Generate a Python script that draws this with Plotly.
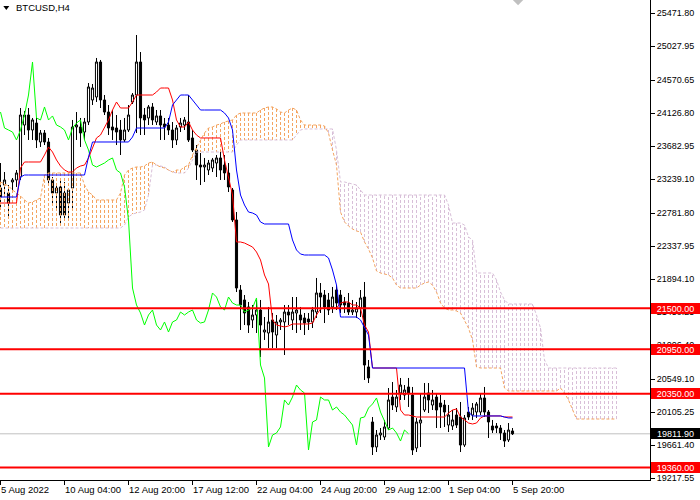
import plotly.graph_objects as go

# ---------------- data ----------------
symbol = "BTCUSD,H4"

date_labels = ["5 Aug 2022", "10 Aug 04:00", "12 Aug 20:00", "17 Aug 12:00", "22 Aug 04:00",
               "24 Aug 20:00", "29 Aug 12:00", "1 Sep 04:00", "5 Sep 20:00"]
date_label_bars = [0, 16, 32, 48, 64, 80, 96, 112, 128]

price_ticks = [25471.80, 25027.95, 24570.65, 24126.80, 23682.95, 23239.10, 22781.80,
               22337.95, 21894.10, 21450.25, 21006.40, 20549.10, 20105.25, 19661.40, 19217.55]

levels = [21500.00, 20950.00, 20350.00, 19360.00]
bid = 19811.90

open_ = [23118, 23158, 23051, 23199, 23226, 23266, 23965, 24100, 23898, 23992,
         23737, 23858, 23737, 23226, 23051, 23132, 23051, 22916, 23118, 23939,
         23939, 23871, 24006, 24302, 24342, 24813, 24302, 24140, 23939, 23925,
         23898, 23764, 23898, 24275, 24369, 24813, 24100, 24060, 24208, 24006,
         24087, 23979, 23965, 23898, 23764, 23939, 23965, 24006, 23791, 23629,
         23427, 23401, 23360, 23387, 23454, 23522, 23427, 23320, 23091, 22688,
         21746, 21612, 21518, 21343, 21410, 21477, 21181, 21168, 21343, 21141,
         21316, 21316, 21450, 21343, 21437, 21410, 21370, 21356, 21316, 21450,
         21706, 21679, 21612, 21518, 21746, 21679, 21585, 21571, 21450, 21450,
         21504, 21652, 20711, 19971, 19635, 19796, 19769, 19890, 20307, 20173,
         20361, 20334, 20442, 20334, 19621, 19957, 20132, 20361, 20199, 20307,
         20226, 20199, 19930, 19917, 20065, 20038, 19661, 20105, 20065, 20105,
         20105, 20294, 20105, 19917, 19917, 19890, 19823, 19729, 19850]

high = [23454, 23333, 23158, 23253, 23360, 24194, 24154, 24194, 24060, 24060,
        23898, 23898, 23791, 23266, 23185, 23226, 23199, 23118, 24033, 24140,
        24060, 24060, 24530, 24517, 24867, 24840, 24369, 24234, 24167, 24100,
        24033, 24060, 24234, 24396, 25176, 24947, 24194, 24234, 24261, 24167,
        24167, 24060, 24060, 24006, 23965, 24060, 24073, 24369, 23898, 23696,
        23589, 23522, 23495, 23522, 23562, 23602, 23562, 23454, 23118, 22795,
        21813, 21679, 21585, 21544, 21612, 21612, 21383, 21518, 21437, 21410,
        21370, 21544, 21544, 21652, 21652, 21518, 21437, 21437, 21518, 21908,
        21840, 21746, 21706, 21787, 21813, 21746, 21652, 21706, 21612, 21585,
        21746, 21854, 20805, 20038, 19863, 19890, 19998, 20428, 20509, 20401,
        20563, 20468, 20563, 20442, 20025, 20361, 20495, 20495, 20401, 20361,
        20334, 20267, 20199, 20132, 20159, 20240, 20065, 20173, 20226, 20240,
        20361, 20442, 20132, 19998, 19957, 19930, 19863, 19957, 19890]

low = [22863, 22997, 22728, 23091, 23132, 23226, 23831, 23764, 23764, 23656,
       23670, 23696, 23158, 22916, 22822, 22620, 22715, 22715, 22822, 23764,
       23670, 23764, 23965, 24234, 24275, 24194, 24100, 23831, 23764, 23696,
       23562, 23737, 23871, 24248, 23858, 23831, 23831, 23965, 23965, 23965,
       23764, 23764, 23831, 23656, 23696, 23871, 23898, 23737, 23602, 23226,
       23158, 23199, 23293, 23333, 23266, 23226, 23226, 23064, 22661, 21719,
       21208, 21275, 21168, 21235, 21168, 20845, 21074, 20966, 20966, 20966,
       21208, 20872, 21275, 21208, 21168, 21208, 21141, 21208, 21235, 21370,
       21437, 21302, 21410, 21437, 21477, 21437, 21437, 21410, 21410, 21370,
       21383, 20536, 20495, 19527, 19567, 19729, 19729, 19863, 20132, 20105,
       20267, 20267, 20173, 19527, 19567, 19635, 20105, 20092, 20132, 19890,
       19890, 19904, 19836, 19863, 19890, 19567, 19635, 19998, 19998, 20025,
       20065, 20038, 19756, 19823, 19823, 19729, 19635, 19702, 19796]

close = [22997, 23226, 22916, 23226, 23320, 24100, 24100, 23898, 24033, 23764,
         23858, 23737, 23226, 23051, 23118, 22755, 22755, 23091, 23939, 23965,
         23858, 24006, 24477, 24463, 24813, 24302, 24140, 23925, 23898, 23871,
         23764, 23898, 24100, 24369, 24813, 24060, 24033, 24208, 24033, 24087,
         23965, 23939, 23898, 23764, 23925, 23992, 24033, 23764, 23629, 23427,
         23401, 23427, 23454, 23495, 23522, 23360, 23320, 23132, 22688, 21773,
         21544, 21437, 21275, 21410, 21477, 21275, 21208, 21316, 21181, 21316,
         21343, 21450, 21410, 21450, 21477, 21343, 21302, 21316, 21477, 21706,
         21652, 21518, 21477, 21652, 21571, 21544, 21544, 21450, 21477, 21504,
         21639, 20737, 20563, 19635, 19796, 19823, 19904, 20267, 20199, 20307,
         20468, 20401, 20361, 19594, 19971, 19998, 20307, 20267, 20267, 20132,
         20173, 20105, 20065, 19998, 19930, 19661, 20025, 20038, 20159, 20213,
         20294, 20105, 19971, 19863, 19890, 19823, 19715, 19863, 19811.9]

tenkan = [22916, 22916, 22916, 22916, 22916, 23387, 23468, 23468, 23468, 23468,
          23468, 23562, 23670, 23602, 23495, 23414, 23360, 23333, 23333, 23387,
          23414, 23427, 23522, 23656, 23791, 23831, 23925, 24033, 24167, 24275,
          24194, 24194, 24194, 24275, 24369, 24369, 24369, 24369, 24369, 24409,
          24463, 24463, 24463, 24302, 24033, 23939, 23939, 24006, 23898, 23831,
          23791, 23791, 23791, 23791, 23791, 23791, 23495, 23253, 23024, 22392,
          22392, 22378, 22351, 22325, 22257, 22150, 21948, 21827, 21343, 21275,
          21262, 21249, 21262, 21289, 21289, 21289, 21289, 21289, 21302, 21410,
          21491, 21504, 21504, 21504, 21504, 21571, 21585, 21585, 21544, 21544,
          21504, 21275, 21181, 20697, 20697, 20697, 20697, 20697, 20697, 20697,
          20132, 20065, 20065, 20052, 20038, 20038, 20038, 20038, 20038, 20038,
          20038, 20038, 20092, 20132, 20146, 20038, 19998, 19957, 19944, 19957,
          20025, 20052, 20052, 20052, 20052, 20052, 20038, 20038, 20038]

kijun = [22997, 22997, 22997, 22997, 22997, 23266, 23293, 23293, 23293, 23293,
         23293, 23293, 23293, 23293, 23293, 23293, 23293, 23293, 23293, 23293,
         23293, 23293, 23535, 23737, 23737, 23737, 23737, 23737, 23737, 23737,
         23737, 23737, 23737, 23804, 23925, 23925, 23925, 23925, 23925, 23925,
         23925, 23925, 24006, 24234, 24302, 24369, 24369, 24369, 24302, 24234,
         24167, 24167, 24167, 24167, 24167, 24167, 24127, 24060, 23898, 23360,
         23024, 22889, 22795, 22782, 22755, 22661, 22634, 22634, 22634, 22634,
         22634, 22634, 22634, 22419, 22284, 22230, 22217, 22217, 22217, 22217,
         22217, 22217, 22177, 22015, 21813, 21383, 21383, 21383, 21383, 21383,
         21343, 21249, 21141, 20697, 20697, 20697, 20697, 20697, 20697, 20697,
         20697, 20697, 20697, 20697, 20697, 20697, 20697, 20697, 20697, 20697,
         20697, 20697, 20697, 20697, 20697, 20697, 20697, 20105, 20052, 20052,
         20052, 20052, 20052, 20052, 20052, 20052, 20038, 20025, 20025]

span_a = [23199, 23172, 23145, 23091, 23051, 23011, 22957, 22916, 22930, 22957,
          22984, 23293, 23320, 23320, 23320, 23320, 23320, 23320, 23320, 23320,
          23320, 23158, 23064, 23024, 22957, 22957, 22957, 22957, 22957, 22957,
          23051, 23293, 23360, 23387, 23401, 23401, 23414, 23454, 23468, 23427,
          23401, 23387, 23360, 23333, 23360, 23360, 23401, 23427, 23562, 23656,
          23764, 23858, 23925, 23939, 23965, 23979, 24006, 24019, 24033, 24100,
          24127, 24127, 24127, 24127, 24127, 24167, 24194, 24208, 24208, 24181,
          24140, 24127, 24167, 24194, 24167, 24033, 23965, 23965, 23965, 23965,
          23965, 23952, 23858, 23629, 23427, 22795, 22661, 22607, 22567, 22540,
          22526, 22392, 22298, 22177, 22002, 21975, 21961, 21948, 21908, 21813,
          21773, 21773, 21773, 21773, 21773, 21813, 21840, 21854, 21813, 21719,
          21571, 21504, 21477, 21477, 21464, 21437, 21343, 21235, 21074, 20711,
          20697, 20697, 20697, 20697, 20697, 20697, 20428, 20388, 20388, 20388,
          20388, 20388, 20388, 20388, 20388, 20388, 20388, 20388, 20388, 20388,
          20428, 20361, 20267, 20132, 20011, 20011, 20011, 20011, 20011, 20011,
          20011, 20011, 20011, 20011, 20011]

span_b = [22580, 22580, 22580, 22580, 22580, 22580, 22580, 22580, 22580, 22580,
          22580, 22580, 22580, 22580, 22580, 22580, 22580, 22580, 22580, 22580,
          22580, 22580, 22580, 22580, 22580, 22580, 22580, 22580, 22580, 22580,
          22580, 22620, 22728, 22768, 22782, 22795, 22822, 23024, 23427, 23427,
          23414, 23401, 23360, 23333, 23320, 23320, 23320, 23387, 23495, 23602,
          23602, 23602, 23602, 23602, 23602, 23602, 23602, 23602, 23602, 23696,
          23764, 23764, 23764, 23764, 23764, 23764, 23764, 23764, 23764, 23764,
          23764, 23764, 23764, 23764, 23831, 23898, 23912, 23912, 23912, 23912,
          23912, 23912, 23912, 23912, 23629, 23199, 23199, 23185, 23172, 23158,
          23091, 23024, 23024, 23024, 23024, 23024, 23024, 23024, 23024, 23024,
          23024, 23024, 23024, 23024, 23024, 23024, 23024, 23024, 23024, 23024,
          23024, 23024, 22889, 22647, 22647, 22647, 22620, 22459, 22419, 21975,
          21975, 21975, 21975, 21975, 21881, 21719, 21612, 21558, 21558, 21558,
          21558, 21558, 21558, 21558, 21410, 21235, 20805, 20697, 20697, 20697,
          20697, 20697, 20697, 20697, 20697, 20697, 20697, 20697, 20697, 20697,
          20697, 20697, 20697, 20697, 20697]

CHIKOU_SHIFT = 26
Y_RANGE = [19190.7, 25646.7]
X_RANGE = [-0.125, 162.375]

FONT = "Liberation Sans, Arial, sans-serif"

# ---------------- figure ----------------
bars = list(range(len(close)))
cloud_bars = list(range(len(span_a)))

fig = go.Figure()

# Kumo hatching: one vertical dotted stroke per bar between Span A and Span B
ox, oy, tx, ty = [], [], [], []
for i, a, b in zip(cloud_bars, span_a, span_b):
    if a >= b:
        ox += [i, i, None]; oy += [a, b, None]
    else:
        tx += [i, i, None]; ty += [a, b, None]

fig.add_trace(go.Scatter(x=tx, y=ty, mode="lines", hoverinfo="skip",
                         line=dict(color="#D8BFD8", width=1, dash="3px,2px")))
fig.add_trace(go.Scatter(x=ox, y=oy, mode="lines", hoverinfo="skip",
                         line=dict(color="#F4A460", width=1, dash="3px,2px")))
fig.add_trace(go.Scatter(x=cloud_bars, y=span_b, mode="lines", hoverinfo="skip",
                         line=dict(color="#D8BFD8", width=1, dash="3px,2px")))
fig.add_trace(go.Scatter(x=cloud_bars, y=span_a, mode="lines", hoverinfo="skip",
                         line=dict(color="#F4A460", width=1, dash="3px,2px")))

# candles
fig.add_trace(go.Candlestick(
    x=bars, open=open_, high=high, low=low, close=close,
    increasing=dict(line=dict(color="black", width=1), fillcolor="white"),
    decreasing=dict(line=dict(color="black", width=1), fillcolor="black"),
    whiskerwidth=0, hoverinfo="skip", showlegend=False))

# Chikou span: closes plotted 26 bars back
fig.add_trace(go.Scatter(x=[b - CHIKOU_SHIFT for b in bars[CHIKOU_SHIFT:]],
                         y=close[CHIKOU_SHIFT:], mode="lines", hoverinfo="skip",
                         line=dict(color="#00FF00", width=1)))
fig.add_trace(go.Scatter(x=bars, y=tenkan, mode="lines", hoverinfo="skip",
                         line=dict(color="#FF0000", width=1)))
fig.add_trace(go.Scatter(x=bars, y=kijun, mode="lines", hoverinfo="skip",
                         line=dict(color="#0000FF", width=1)))

shapes = []
# bid line
shapes.append(dict(type="line", xref="paper", x0=0, x1=1, yref="y", y0=bid, y1=bid,
                   line=dict(color="#C0C0C0", width=1), layer="below"))
# support / resistance levels
for lv in levels:
    shapes.append(dict(type="line", xref="paper", x0=0, x1=1, yref="y", y0=lv, y1=lv,
                       line=dict(color="#FF0000", width=2), layer="above"))
# chart-shift marker and title triangle
shapes.append(dict(type="path", xref="paper", yref="paper",
                   path="M 0.789 1 L 0.805 1 L 0.797 0.989 Z",
                   fillcolor="#C0C0C0", line=dict(width=0)))
shapes.append(dict(type="path", xref="paper", yref="paper",
                   path="M 0.0051 0.9875 L 0.0143 0.9875 L 0.0097 0.9792 Z",
                   fillcolor="black", line=dict(width=0)))

annotations = []
annotations.append(dict(text=symbol, xref="paper", yref="paper", x=0, y=1,
                        xanchor="left", yanchor="top", xshift=14, yshift=0,
                        showarrow=False, font=dict(family=FONT, size=9.5, color="black")))
for b, t in zip(date_label_bars, date_labels):
    annotations.append(dict(text=t, xref="x", yref="paper", x=b, y=0,
                            xanchor="left", yanchor="top", xshift=-2, yshift=-2,
                            showarrow=False, font=dict(family=FONT, size=9.5, color="black")))
for lv in levels:
    annotations.append(dict(text=f"{lv:.2f}", xref="paper", yref="y", x=1, y=lv,
                            xanchor="left", yanchor="middle", xshift=1, width=49, height=11,
                            showarrow=False, bgcolor="#FF0000", borderpad=0, borderwidth=0,
                            font=dict(family=FONT, size=9, color="white")))
annotations.append(dict(text=f"{bid:.2f}", xref="paper", yref="y", x=1, y=bid,
                        xanchor="left", yanchor="middle", xshift=1, width=49, height=11,
                        showarrow=False, bgcolor="#000000", borderpad=0, borderwidth=0,
                        font=dict(family=FONT, size=9, color="white")))

fig.update_layout(
    width=700, height=500,
    margin=dict(l=0, r=50, t=0, b=20),
    paper_bgcolor="white", plot_bgcolor="white",
    showlegend=False, boxgap=0.25,
    shapes=shapes, annotations=annotations,
    font=dict(family=FONT, size=9, color="black"),
    xaxis=dict(range=X_RANGE, showgrid=False, zeroline=False, showline=True,
               linecolor="black", linewidth=1, ticks="outside", ticklen=4,
               tickcolor="black", tickvals=date_label_bars, showticklabels=False,
               rangeslider=dict(visible=False), fixedrange=True),
    yaxis=dict(range=Y_RANGE, side="right", showgrid=False, zeroline=False,
               showline=True, linecolor="black", linewidth=1, ticks="outside",
               ticklen=4, tickcolor="black", tickvals=price_ticks,
               ticktext=[f"{v:.2f}" for v in price_ticks],
               tickfont=dict(family=FONT, size=9, color="black"), fixedrange=True),
)

fig.write_html("out.html", config={"displayModeBar": False},
               post_script="document.body.style.margin='0px';document.body.style.padding='0px';")
